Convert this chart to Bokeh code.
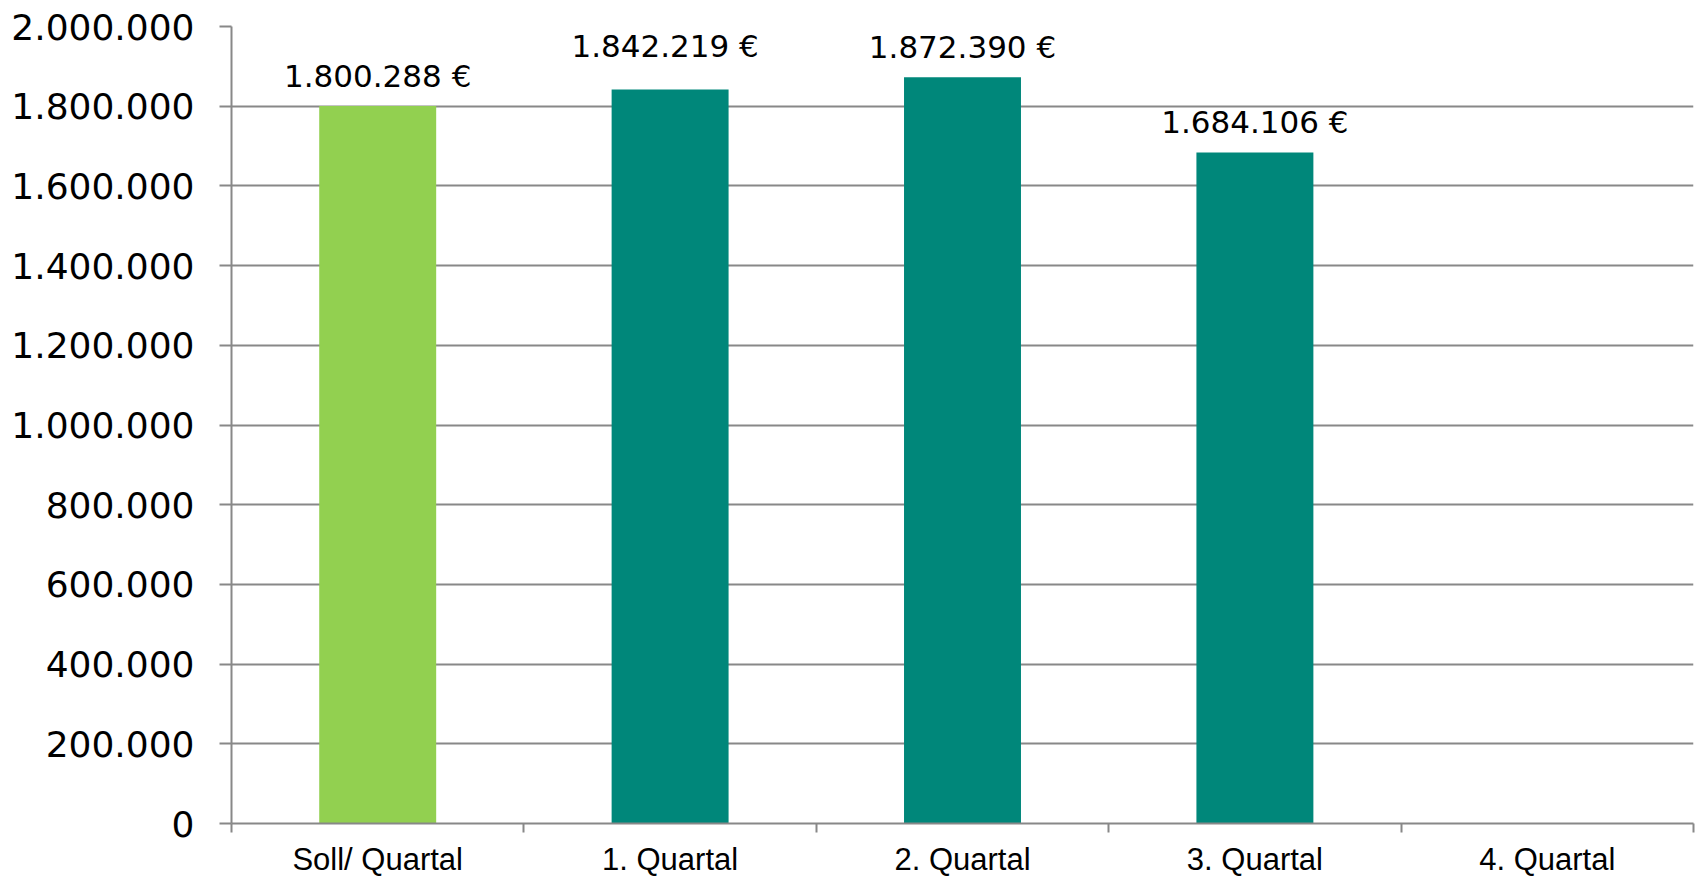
import numpy as np
from bokeh.plotting import figure
from bokeh.models import (Range1d, LinearAxis, FixedTicker, ColumnDataSource, LabelSet)
from bokeh.core.properties import value
from bokeh.embed import file_html
from bokeh.resources import INLINE

# ---- data ----
categories = ["Soll/ Quartal", "1. Quartal", "2. Quartal", "3. Quartal", "4. Quartal"]
values = [1800288, 1842219, 1872390, 1684106, None]
y_ticks = [0, 200000, 400000, 600000, 800000, 1000000, 1200000,
           1400000, 1600000, 1800000, 2000000]

# ---- style ----
bar_colors = ["#92D050", "#00877A", "#00877A", "#00877A", "#00877A"]
label_dy = [19, 32, 19, 19, 19]
label_dx = [0, -5, 0, 0, 0]
GRID = "#888888"


def de(n):
    return f"{n:,.0f}".replace(",", ".")


n_cat = len(categories)
centers = [i + 0.5 for i in range(n_cat)]
edges = list(range(n_cat + 1))
tops = np.array([np.nan if v is None else float(v) for v in values])

src = ColumnDataSource(dict(x=centers, top=tops, color=bar_colors))

keep = [i for i, v in enumerate(values) if v is not None]
lab_src = ColumnDataSource(dict(
    x=[centers[i] for i in keep],
    y=[values[i] for i in keep],
    label=[de(values[i]) + " €" for i in keep],
    dy=[label_dy[i] for i in keep],
    dx=[label_dx[i] for i in keep],
))

p = figure(width=1696, height=879,
           x_range=Range1d(0, n_cat),
           y_range=Range1d(0, y_ticks[-1]),
           x_axis_location=None,
           output_backend="svg", toolbar_location=None,
           min_border_left=231, min_border_right=3,
           min_border_top=26, min_border_bottom=55)
p.outline_line_color = None
p.background_fill_color = "white"
p.border_fill_color = "white"
p.xgrid.visible = False

p.vbar(x="x", top="top", width=0.4, bottom=0, source=src,
       fill_color="color", line_color=None)

p.add_layout(LabelSet(x="x", y="y", text="label", y_offset="dy", x_offset="dx",
                      source=lab_src,
                      text_align="center", text_baseline="alphabetic",
                      text_font=value("DejaVu Sans"), text_font_size=value("31px"),
                      text_color="black"))

# y axis
ya = p.yaxis[0]
ya.ticker = FixedTicker(ticks=y_ticks)
ya.major_label_overrides = {t: de(t) for t in y_ticks}
ya.major_tick_out = 12
ya.major_tick_in = 0
ya.minor_tick_out = 0
ya.minor_tick_in = 0
ya.axis_line_color = GRID
ya.axis_line_width = 2
ya.major_tick_line_color = GRID
ya.major_tick_line_width = 2
ya.major_label_standoff = 25
ya.major_label_text_font = "DejaVu Sans"
ya.major_label_text_font_size = "36px"
ya.major_label_text_color = "black"

p.ygrid.ticker = FixedTicker(ticks=y_ticks)
p.ygrid.grid_line_color = GRID
p.ygrid.grid_line_width = 2

# x axis: ticks between categories (no labels)
edge_axis = LinearAxis(ticker=FixedTicker(ticks=edges),
                       major_label_text_font_size="0px",
                       major_label_text_color=None,
                       major_label_standoff=0,
                       major_tick_out=9, major_tick_in=0,
                       minor_tick_out=0, minor_tick_in=0,
                       axis_line_color=GRID, axis_line_width=2,
                       major_tick_line_color=GRID, major_tick_line_width=2)
p.add_layout(edge_axis, "below")

# category labels at centers
cat_axis = LinearAxis(ticker=FixedTicker(ticks=centers),
                      major_label_overrides={c: name for c, name in zip(centers, categories)},
                      axis_line_color=None, major_tick_line_color=None,
                      major_tick_out=0, major_tick_in=0,
                      minor_tick_out=0, minor_tick_in=0,
                      major_label_standoff=9,
                      major_label_text_font="Liberation Sans",
                      major_label_text_font_size="31px",
                      major_label_text_color="black")
p.add_layout(cat_axis, "below")

open("out.html", "w").write(file_html(p, INLINE))
